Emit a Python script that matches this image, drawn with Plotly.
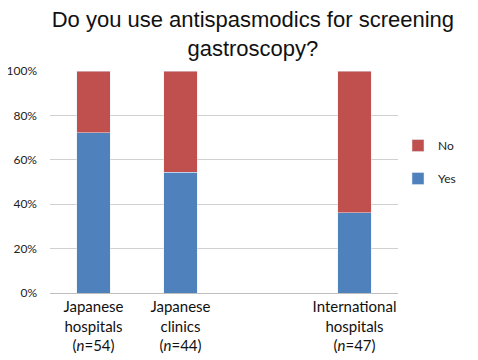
import plotly.graph_objects as go

categories = ["Japanese<br>hospitals<br>(<i>n</i>=54)", "Japanese<br>clinics<br>(<i>n</i>=44)", " ",
              "International<br>hospitals<br>(<i>n</i>=47)"]
yes_pct = [72.2, 54.5, None, 36.2]
no_pct = [27.8, 45.5, None, 63.8]
tick_vals = [0, 20, 40, 60, 80, 100]
tick_text = ["0%", "20%", "40%", "60%", "80%", "100%"]

fig = go.Figure()
fig.add_trace(go.Bar(x=categories, y=yes_pct, name="Yes", marker_color="#4F81BD",
                     legendgroup="yes", legendrank=2, width=0.39))
fig.add_trace(go.Bar(x=categories, y=no_pct, name="No", marker_color="#C0504D",
                     legendgroup="no", legendrank=1, width=0.39))

fig.update_layout(
    barmode="stack",
    width=470, height=352,
    margin=dict(l=42, r=80, t=63, b=67),
    paper_bgcolor="white", plot_bgcolor="white",
    title=dict(text="Do you use antispasmodics for screening<br>gastroscopy?",
               x=0.521, xanchor="center", y=0.945, yanchor="middle",
               font=dict(family="Liberation Sans, Arial", size=22, color="#111111")),
    legend=dict(x=1.0, y=0.59, xanchor="left", yanchor="middle",
                tracegroupgap=14,
                font=dict(family="Lato, Open Sans", size=12, color="#222222"),
                itemwidth=30),
    showlegend=True,
)
fig.update_xaxes(type="category", categoryorder="array", categoryarray=categories,
                 tickfont=dict(family="Lato, Open Sans", size=15, color="#111111"),
                 showline=True, linecolor="#BFBFBF", linewidth=1, ticks="", showgrid=False,
                 automargin=False)
fig.update_yaxes(range=[0, 100], tickvals=tick_vals, ticktext=tick_text,
                 tickfont=dict(family="Lato, Open Sans", size=12, color="#222222"),
                 showgrid=True, gridcolor="#D0D0D0", gridwidth=1, zeroline=False,
                 showline=False, ticks="", ticklabelstandoff=12, automargin=False)

fig.write_html("out.html")
